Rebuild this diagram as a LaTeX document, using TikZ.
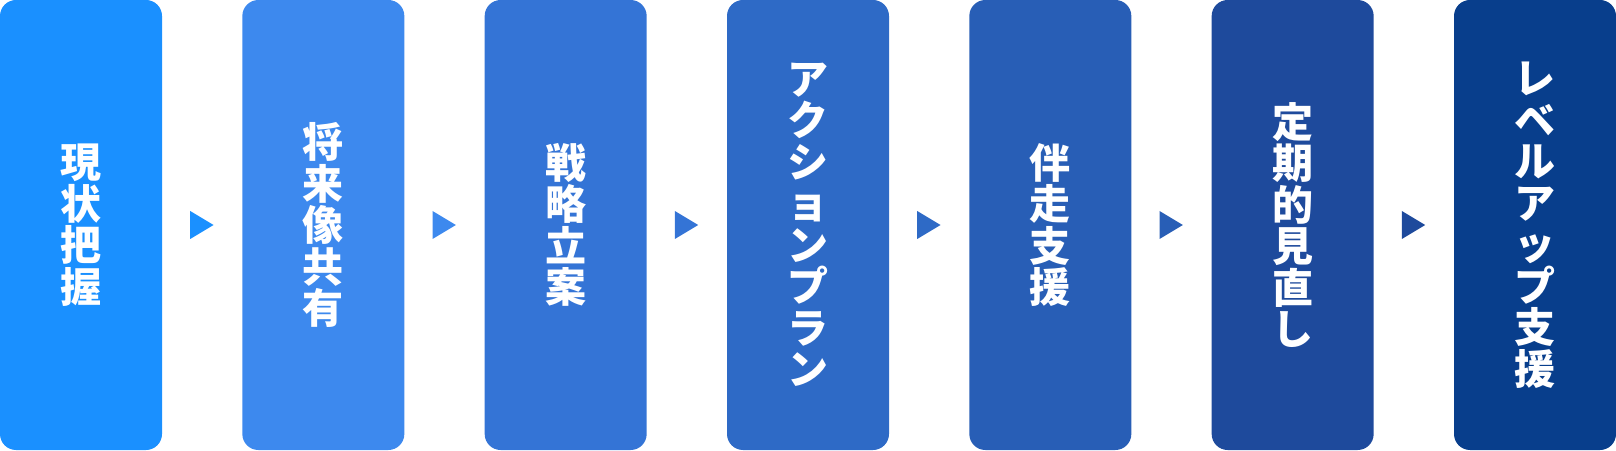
\documentclass[tikz,border=0pt]{standalone}
\usepackage{fontspec}
\newfontfamily\jp{Noto Sans CJK JP}
\usetikzlibrary{calc}
\definecolor{c1}{RGB}{26,144,255}
\definecolor{c2}{RGB}{61,137,238}
\definecolor{c3}{RGB}{52,116,214}
\definecolor{c4}{RGB}{46,106,198}
\definecolor{c5}{RGB}{40,94,182}
\definecolor{c6}{RGB}{30,74,156}
\definecolor{c7}{RGB}{8,62,140}
\tikzset{
  stepbox/.style={rectangle, rounded corners=16pt, minimum width=162pt, minimum height=450pt,
    inner sep=0pt, text=white, align=center,
    font=\jp\bfseries\fontsize{41}{41.5}\selectfont},
}
\newcommand{\tri}[2]{% #1 left box name, #2 colour
  \fill[#2] ($(#1.east)+(28,14)$) -- ($(#1.east)+(51.3,0)$) -- ($(#1.east)+(28,-14)$) -- cycle;}
\begin{document}
\begin{tikzpicture}[x=1pt,y=1pt]
\useasboundingbox (0,0) rectangle (1616,450);
\node[stepbox, fill=c1] (b1) at (81,225) {現\\状\\把\\握};
\node[stepbox, fill=c2] (b2) at (323.33,225) {将\\来\\像\\共\\有};
\node[stepbox, fill=c3] (b3) at (565.67,225) {戦\\略\\立\\案};
\node[stepbox, fill=c4] (b4) at (808,225) {ア\\ク\\シ\\ョ\\ン\\プ\\ラ\\ン};
\node[stepbox, fill=c5] (b5) at (1050.33,225) {伴\\走\\支\\援};
\node[stepbox, fill=c6] (b6) at (1292.67,225) {定\\期\\的\\見\\直\\し};
\node[stepbox, fill=c7] (b7) at (1535,225) {レ\\ベ\\ル\\ア\\ッ\\プ\\支\\援};
\tri{b1}{c1}
\tri{b2}{c2}
\tri{b3}{c3}
\tri{b4}{c4}
\tri{b5}{c5}
\tri{b6}{c6}
\end{tikzpicture}
\end{document}
